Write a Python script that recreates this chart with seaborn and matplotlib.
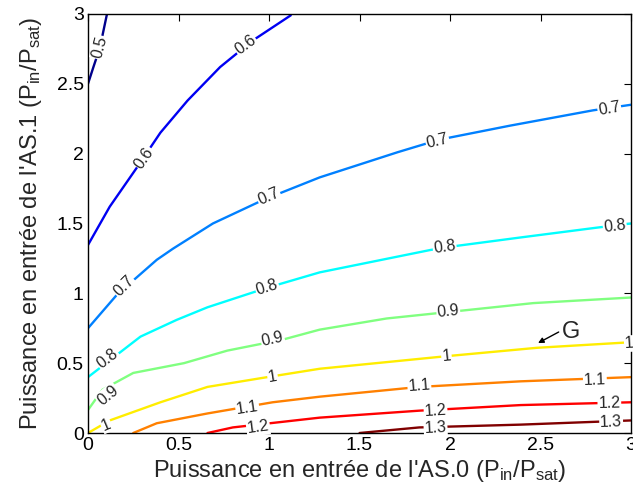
import numpy as np
import pandas as pd
import matplotlib
matplotlib.use("Agg")
import matplotlib.pyplot as plt
import seaborn as sns

# contour lines: level -> (x points, y points)
levels = [0.5, 0.6, 0.7, 0.8, 0.9, 1.0, 1.1, 1.2, 1.3]
line_x = {
    0.5: [0.0, 0.03, 0.066, 0.105],
    0.6: [0.0, 0.12, 0.27, 0.40, 0.55, 0.73, 0.91, 1.12],
    0.7: [0.0, 0.16, 0.38, 0.47, 0.69, 0.97, 1.28, 1.71, 1.94, 2.33, 2.79, 3.0],
    0.8: [0.0, 0.12, 0.29, 0.49, 0.66, 0.99, 1.28, 1.89, 1.98, 2.39, 2.81, 3.0],
    0.9: [0.0, 0.08, 0.25, 0.53, 0.77, 1.08, 1.28, 1.65, 2.02, 2.46, 3.0],
    1.0: [0.0, 0.12, 0.40, 0.66, 0.99, 1.28, 1.98, 2.48, 3.0],
    1.1: [0.25, 0.38, 0.66, 1.02, 1.28, 1.83, 2.39, 3.0],
    1.2: [0.66, 0.80, 1.28, 1.83, 2.39, 3.0],
    1.3: [1.50, 1.83, 2.39, 3.0],
}
line_y = {
    0.5: [2.50, 2.62, 2.76, 3.0],
    0.6: [1.346, 1.62, 1.90, 2.15, 2.38, 2.62, 2.81, 2.99],
    0.7: [0.75, 0.99, 1.24, 1.32, 1.50, 1.67, 1.83, 2.01, 2.10, 2.20, 2.31, 2.35],
    0.8: [0.40, 0.52, 0.69, 0.81, 0.90, 1.04, 1.15, 1.31, 1.33, 1.40, 1.47, 1.50],
    0.9: [0.165, 0.31, 0.43, 0.50, 0.59, 0.67, 0.74, 0.82, 0.87, 0.93, 0.97],
    1.0: [0.0, 0.09, 0.22, 0.33, 0.40, 0.46, 0.55, 0.61, 0.65],
    1.1: [0.0, 0.07, 0.14, 0.22, 0.26, 0.33, 0.37, 0.40],
    1.2: [0.0, 0.04, 0.11, 0.16, 0.20, 0.22],
    1.3: [0.0, 0.04, 0.06, 0.09],
}

# inline contour labels: (level, x, y)
labels = [
    (0.5, 0.066, 2.76), (0.6, 0.87, 2.78), (0.6, 0.31, 1.97),
    (0.7, 0.20, 1.05), (0.7, 1.00, 1.69), (0.7, 1.93, 2.09), (0.7, 2.88, 2.32),
    (0.8, 0.11, 0.53), (0.8, 0.99, 1.04), (0.8, 1.97, 1.33), (0.8, 2.91, 1.48),
    (0.9, 0.11, 0.27), (0.9, 1.02, 0.67), (0.9, 1.99, 0.87),
    (1.0, 0.10, 0.06), (1.0, 1.02, 0.40), (1.0, 1.98, 0.55), (1.0, 2.99, 0.64),
    (1.1, 0.88, 0.18), (1.1, 1.83, 0.34), (1.1, 2.80, 0.38),
    (1.2, 0.94, 0.04), (1.2, 1.92, 0.16), (1.2, 2.88, 0.21),
    (1.3, 1.92, 0.035), (1.3, 2.89, 0.075),
]

rows = []
for lv in levels:
    for i, (x, y) in enumerate(zip(line_x[lv], line_y[lv])):
        rows.append({"level": lv, "order": i, "x": x, "y": y})
df = pd.DataFrame(rows)

sns.set_style("white")
plt.rcParams["font.family"] = ["Liberation Sans", "DejaVu Sans"]
plt.rcParams["mathtext.fontset"] = "custom"
plt.rcParams["mathtext.rm"] = "Liberation Sans"
plt.rcParams["mathtext.it"] = "Liberation Sans:italic"
plt.rcParams["mathtext.default"] = "regular"

# MATLAB-style jet colours, one per level
jet_colors = [(0, 0, 0.55), (0, 0, 0.95), (0, 0.5, 1), (0, 1, 1), (0.5, 1, 0.5),
              (1, 0.93, 0), (1, 0.5, 0), (1, 0, 0), (0.5, 0, 0)]
palette = dict(zip(levels, jet_colors))

fig = plt.figure(figsize=(6.33, 4.98), dpi=100)
ax = fig.add_axes([0.139, 0.1305, 0.858, 0.8415])

sns.lineplot(data=df, x="x", y="y", hue="level", units="level", estimator=None,
             sort=False, palette=palette, linewidth=1.7, legend=False, ax=ax)

ax.set_xlim(0, 3)
ax.set_ylim(0, 3)
ax.set_xticks([0, 0.5, 1, 1.5, 2, 2.5, 3])
ax.set_xticklabels(["0", "0.5", "1", "1.5", "2", "2.5", "3"])
ax.set_yticks([0, 0.5, 1, 1.5, 2, 2.5, 3])
ax.set_yticklabels(["0", "0.5", "1", "1.5", "2", "2.5", "3"])
ax.tick_params(direction="in", length=5, width=0.8, top=True, right=True,
               labelsize=14, pad=3, colors="black")
for s in ax.spines.values():
    s.set_linewidth(1.0)
    s.set_color("black")

ax.set_xlabel("Puissance en entrée de l'AS.0 (P$_{in}$/P$_{sat}$)", fontsize=17, labelpad=3)
ax.set_ylabel("Puissance en entrée de l'AS.1 (P$_{in}$/P$_{sat}$)", fontsize=17, labelpad=9)

fig.canvas.draw()


def label_angle(lv, x, y):
    xs = np.array(line_x[lv])
    ys = np.array(line_y[lv])
    pts = ax.transData.transform(np.column_stack([xs, ys]))
    p = ax.transData.transform((x, y))
    d = np.hypot(pts[:, 0] - p[0], pts[:, 1] - p[1])
    i = int(np.argmin(d))
    j0, j1 = max(i - 1, 0), min(i + 1, len(xs) - 1)
    dx = pts[j1, 0] - pts[j0, 0]
    dy = pts[j1, 1] - pts[j0, 1]
    a = np.degrees(np.arctan2(dy, dx))
    if a > 90:
        a -= 180
    if a < -90:
        a += 180
    return a


for lv, x, y in labels:
    txt = "1" if lv == 1.0 else f"{lv:g}"
    ax.text(x, y, txt, fontsize=11.5, ha="center", va="center",
            rotation=label_angle(lv, x, y), rotation_mode="anchor",
            bbox=dict(boxstyle="square,pad=0.05", fc="white", ec="none"),
            zorder=5, clip_on=False)

# marker "G" with its arrow pointing at the gain = 1 line
ax.annotate("", xy=(2.486, 0.644), xytext=(2.60, 0.723),
            arrowprops=dict(arrowstyle="-|>", color="black", lw=1.0,
                            shrinkA=0, shrinkB=0, mutation_scale=8))
ax.text(2.62, 0.72, "G", fontsize=17, ha="left", va="center")

fig.savefig("out.png", dpi=100)
